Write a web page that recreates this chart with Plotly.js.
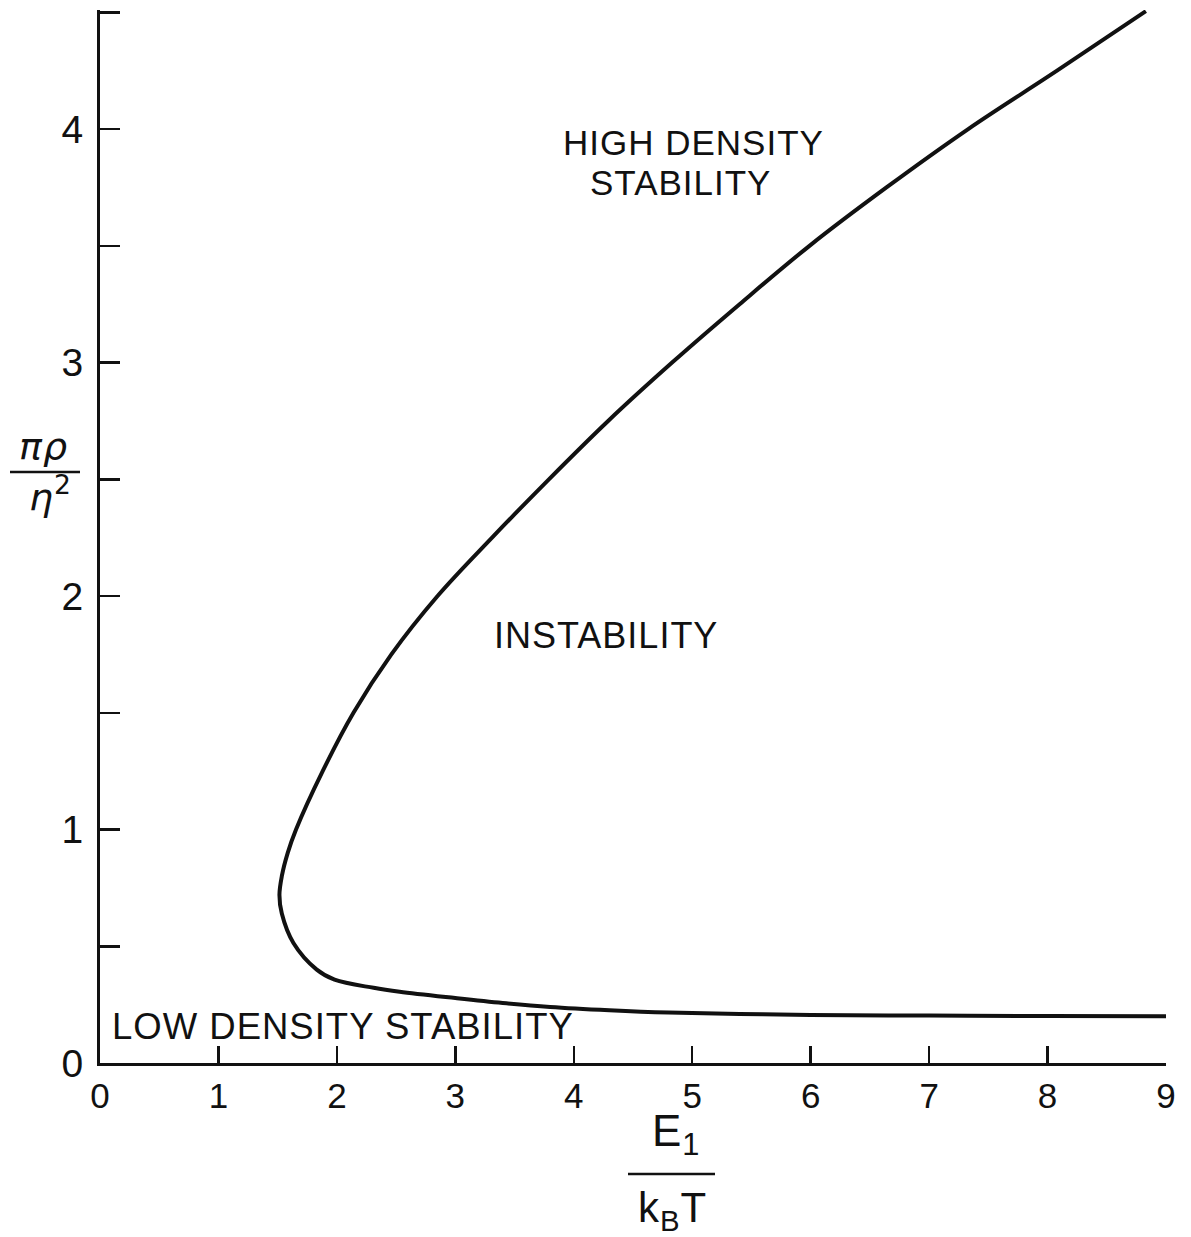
<!DOCTYPE html>
<html>
<head>
<meta charset="utf-8">
<script src="https://cdn.plot.ly/plotly-3.0.1.min.js"></script>
<style>
  html, body { margin: 0; padding: 0; background: #fff; }
  #chart { width: 1191px; height: 1237px; }
  .annotation-text { letter-spacing: 1px; }
</style>
</head>
<body>
<div id="chart"></div>
<script>
// Stability boundary curve, traced along the curve from the upper end
const E1_over_kBT = [8.83, 8.08, 7.33, 6.64, 5.99, 5.40, 4.83, 4.29, 3.79, 3.31, 2.85, 2.46, 2.14, 1.88, 1.655, 1.585, 1.535, 1.515, 1.535, 1.633, 1.83, 1.98, 2.31, 2.53, 3.00, 3.40, 3.80, 4.30, 4.80, 5.40, 6.00, 7.00, 8.00, 9.02];
const pi_rho_over_eta2 = [4.505, 4.25, 4.00, 3.75, 3.50, 3.25, 3.00, 2.75, 2.50, 2.25, 2.00, 1.75, 1.50, 1.25, 1.00, 0.90, 0.80, 0.72, 0.64, 0.514, 0.40, 0.357, 0.322, 0.305, 0.278, 0.257, 0.240, 0.226, 0.216, 0.210, 0.206, 0.203, 0.201, 0.200];

const xTickVals = [0, 1, 2, 3, 4, 5, 6, 7, 8, 9];
const xTickText = ["0", "1", "2", "3", "4", "5", "6", "7", "8", "9"];
const yTickVals = [0, 0.5, 1, 1.5, 2, 2.5, 3, 3.5, 4, 4.5];
const yTickText = ["0", "", "1", "", "2", "", "3", "", "4", ""];

const regionLabels = ["HIGH DENSITY", "STABILITY", "INSTABILITY", "LOW DENSITY STABILITY"];

// page geometry helpers (pixel -> paper)
const W = 1191, H = 1237;
const M = { l: 100, r: 25, t: 10, b: 174 };
const pw = W - M.l - M.r, ph = H - M.t - M.b;
const px = v => (v - M.l) / pw;
const py = v => (H - M.b - v) / ph;

const ink = "#111111";
const font = "Liberation Sans, Arial, sans-serif";
const greek = "DejaVu Sans, sans-serif";

const trace = {
  x: E1_over_kBT,
  y: pi_rho_over_eta2,
  type: "scatter",
  mode: "lines",
  line: { color: ink, width: 4, shape: "spline", smoothing: 1 },
  hoverinfo: "skip",
  showlegend: false
};

function lbl(text, x, y, size, opts) {
  return Object.assign({
    text: text, xref: "paper", yref: "paper", x: px(x), y: py(y),
    xanchor: "center", yanchor: "middle", showarrow: false,
    font: { family: font, size: size, color: ink }
  }, opts || {});
}

const layout = {
  width: W, height: H,
  margin: M,
  paper_bgcolor: "#fff", plot_bgcolor: "#fff",
  showlegend: false,
  xaxis: {
    range: [0, 9], showgrid: false, zeroline: false,
    showline: true, linecolor: ink, linewidth: 3,
    ticks: "inside", ticklen: 17, tickwidth: 2.5, tickcolor: ink,
    tickvals: xTickVals, ticktext: xTickText,
    tickfont: { family: font, size: 35, color: ink },
    ticklabelstandoff: 0
  },
  yaxis: {
    range: [0, 4.51], showgrid: false, zeroline: false,
    showline: true, linecolor: ink, linewidth: 3,
    ticks: "inside", ticklen: 20, tickwidth: 2.5, tickcolor: ink,
    tickvals: yTickVals, ticktext: yTickText,
    tickfont: { family: font, size: 39, color: ink },
    ticklabelstandoff: 6
  },
  annotations: [
    lbl(regionLabels[0], 693, 143, 35),
    lbl(regionLabels[1], 680, 182, 35),
    lbl(regionLabels[2], 606, 635, 36),
    lbl(regionLabels[3], 110, 1026, 36.5, { xanchor: "left" }),
    // y-axis title as a fraction
    lbl("<i>πρ</i>", 44, 446, 38, { font: { family: greek, size: 38, color: ink } }),
    lbl("<i>η</i><sup>2</sup>", 50, 494, 38, { font: { family: greek, size: 38, color: ink } }),
    // x-axis title as a fraction
    lbl("E<sub>1</sub>", 676, 1134, 44),
    lbl("k<sub>B</sub>T", 672, 1210, 42)
  ],
  shapes: [
    { type: "line", xref: "paper", yref: "paper", x0: px(10), x1: px(80), y0: py(472), y1: py(472),
      line: { color: ink, width: 2.5 } },
    { type: "line", xref: "paper", yref: "paper", x0: px(628), x1: px(715), y0: py(1174), y1: py(1174),
      line: { color: ink, width: 2.5 } }
  ]
};

Plotly.newPlot("chart", [trace], layout, { staticPlot: true, displayModeBar: false });
</script>
</body>
</html>
